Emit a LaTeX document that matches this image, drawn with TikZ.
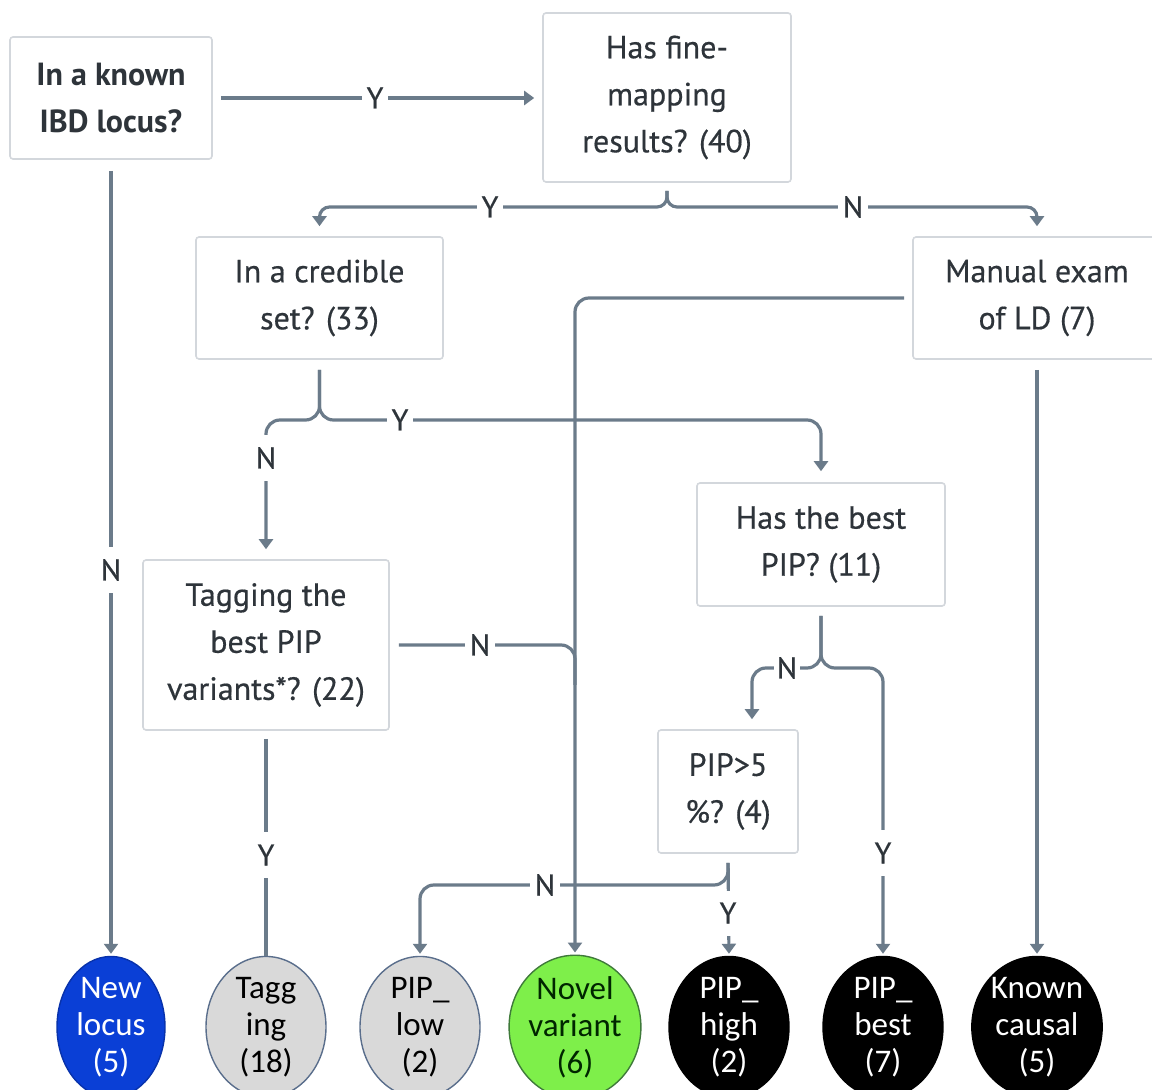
\documentclass[tikz,border=0pt]{standalone}
\usepackage{fontspec}
\setmainfont{PT Sans}
\newfontfamily\calib{Carlito}
\newfontfamily\boxfont[FakeBold=0.5]{PT Sans}
\usetikzlibrary{arrows.meta,shapes.geometric}
\definecolor{lnc}{HTML}{6B7B8A}
\definecolor{bxb}{HTML}{D3D7DC}
\definecolor{txc}{HTML}{2E343A}
\definecolor{blu}{HTML}{0A3FD6}
\definecolor{gry}{HTML}{D9D9D9}
\definecolor{grn}{HTML}{7EEF4A}
\definecolor{elb}{HTML}{5A6E8C}
\definecolor{grb}{HTML}{3F7A3A}
\begin{document}
\begin{tikzpicture}[x=0.5pt,y=-0.5pt,
 box/.style={draw=bxb,line width=0.8pt,rounded corners=1.5pt,fill=white,align=center,text=txc,font=\boxfont\fontsize{16}{23.5}\selectfont,inner sep=0pt},
 circ/.style={ellipse,draw=elb,line width=0.7pt,minimum width=60pt,minimum height=60pt,inner sep=0pt,align=center,font=\calib\fontsize{16.5}{18.5}\selectfont},
 conn/.style={draw=lnc,line width=1.6pt,rounded corners=7pt},
 arr/.style={conn,-{Triangle[width=7pt,length=5pt]}},
 lblh/.style={fill=white,text=txc,font=\boxfont\fontsize{15}{18}\selectfont,inner xsep=2.5pt,inner ysep=1pt},
 lblv/.style={fill=white,text=txc,font=\boxfont\fontsize{15}{18}\selectfont,inner xsep=1pt,inner ysep=6pt},
]
\useasboundingbox (0,0) rectangle (1152,1090);
% boxes
\node[box,minimum width=101pt,minimum height=61pt,font=\bfseries\fontsize{16}{23.5}\selectfont] (b1) at (111,98) {In a known\\IBD locus?};
\node[box,minimum width=124pt,minimum height=84.5pt] (b2) at (667,97.5) {Has fine-\\mapping\\results? (40)};
\node[box,minimum width=123.5pt,minimum height=61pt] (b3) at (319.5,298) {In a credible\\set? (33)};
\node[box,minimum width=124pt,minimum height=61pt] (b4) at (1037,298) {Manual exam\\of LD (7)};
\node[box,minimum width=124pt,minimum height=61.5pt] (b5) at (821,544.5) {Has the best\\PIP? (11)};
\node[box,minimum width=123pt,minimum height=85pt] (b6) at (266,645) {Tagging the\\best PIP\\variants*? (22)};
\node[box,minimum width=70pt,minimum height=61.5pt] (b7) at (728,791.5) {PIP\textgreater5\\\%? (4)};
% terminal ellipses
\node[circ,fill=blu,draw=blu!80!black,text=white,minimum width=54pt] (e1) at (111,1027) {New\\locus\\(5)};
\node[circ,fill=gry,text=black] (e2) at (266,1027) {Tagg\\ing\\(18)};
\node[circ,fill=gry,text=black] (e3) at (420,1027) {PIP\_\\low\\(2)};
\node[circ,fill=grn,draw=grb,text=black!85!green] (e4) at (575,1027) {Novel\\variant\\(6)};
\node[circ,fill=black,draw=black,text=white] (e5) at (729,1027) {PIP\_\\high\\(2)};
\node[circ,fill=black,draw=black,text=white] (e6) at (883,1027) {PIP\_\\best\\(7)};
\node[circ,fill=black,draw=black,text=white] (e7) at (1037,1027) {Known\\causal\\(5)};
% junction points
\coordinate (j1) at (667,207);
\coordinate (j2) at (319.5,420);
\coordinate (j3) at (821,668);
\coordinate (j4) at (728,885);
\coordinate (b7n) at ([xshift=12pt]b7.north);
% connectors
\draw[arr,shorten <=4pt,shorten >=4pt] (b1.east) -- (b1.east -| b2.west);
\draw[arr,shorten <=5.5pt,shorten >=1pt] (b1.south) -- (e1.north);
\draw[arr,rounded corners=5pt,shorten >=5pt] ([yshift=-4pt]b2.south) -- (j1) -- (j1 -| b3.north) -- (b3.north);
\draw[arr,rounded corners=5pt,shorten >=5pt] ([yshift=-4pt]b2.south) -- (j1) -- (j1 -| b4.north) -- (b4.north);
\draw[arr,shorten >=5pt] ([yshift=-5pt]b3.south) -- (j2) -- (j2 -| b6.north) -- (b6.north);
\draw[arr,shorten >=5.5pt] ([yshift=-5pt]b3.south) -- (j2) -- (j2 -| b5.north) -- (b5.north);
\draw[arr,shorten <=4pt,shorten >=1pt] (b4.west) -- (b4.west -| e4.north) -- (e4.north);
\draw[arr,shorten <=5pt,shorten >=1pt] (b4.south) -- (e7.north);
\draw[conn,shorten <=4.5pt] (b6.east) -- (b6.east -| e4.north) -- ++(0,40);
\draw[conn,shorten <=4pt] (b6.south) -- (e2.north);
\draw[arr,shorten >=5pt] ([yshift=-4.5pt]b5.south) -- (j3) -- (j3 -| b7n) -- (b7n);
\draw[arr,shorten >=1pt] ([yshift=-4.5pt]b5.south) -- (j3) -- (j3 -| e6.north) -- (e6.north);
\draw[arr,shorten >=1pt] ([yshift=-4.5pt]b7.south) -- (j4) -- (j4 -| e3.north) -- (e3.north);
\draw[arr,shorten <=4.5pt,shorten >=1pt] (b7.south) -- (e5.north);
% labels
\node[lblh] (l1) at (375,98) {Y};
\node[lblv] (l2) at (111,570) {N};
\node[lblh] (l3) at (490,207) {Y};
\node[lblh] (l4) at (853,207) {N};
\node[lblv] (l5) at (266,458) {N};
\node[lblh] (l6) at (400,420) {Y};
\node[lblh] (l7) at (480,645) {N};
\node[lblv] (l8) at (266,855) {Y};
\node[lblh,inner xsep=1.5pt] (l9) at (787,668) {N};
\node[lblv] (l10) at (883,853) {Y};
\node[lblh] (l11) at (545,885) {N};
\node[lblv] (l12) at (728,913) {Y};
\end{tikzpicture}
\end{document}
